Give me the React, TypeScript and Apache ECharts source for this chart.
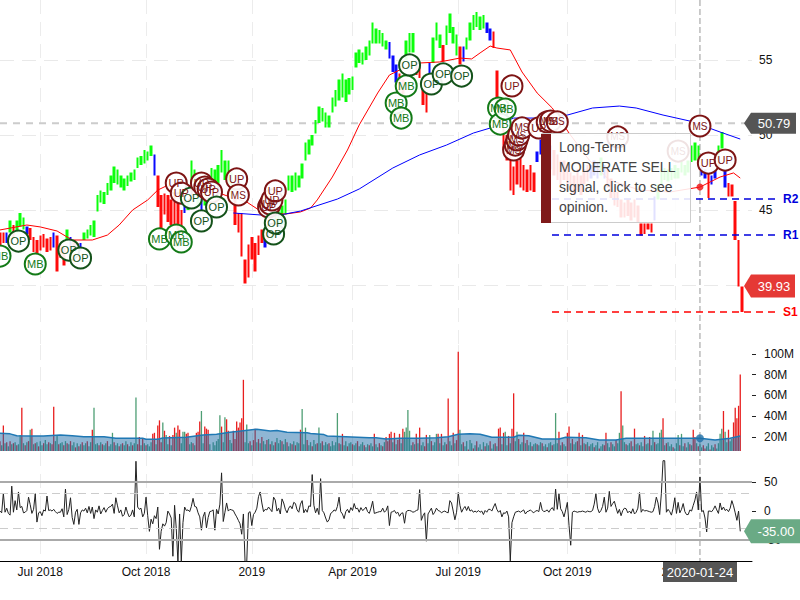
import React, { useEffect, useRef } from "react";
import * as echarts from "echarts";

const FONT = '"Liberation Sans", Arial, sans-serif';
const COUNT = 449;
const tickIndex = [24, 87, 150, 210, 273, 338, 402];
const tickText = ["Jul 2018", "Oct 2018", "2019", "Apr 2019", "Jul 2019", "Oct 2019", "2020"];

// One price bar for every second trading day.
const highs = [
43.5,43.5,43.5,44.3,44,44.3,44.8,44.5,43.9,43.8,
43.2,43,43.3,43.4,43.1,43.2,43.5,43.3,42.7,42.5,
43.7,43.2,43,42.8,42.8,43.5,43.7,44,44.3,46,
46.3,46.2,46.8,47.3,47.9,47.7,47.3,47.1,47.3,47.5,
47.7,48.5,48.6,49,48.9,49.3,48.7,47.3,46,46.1,
46,45.7,46.3,45.5,45,45.3,45.7,48.3,47.7,46.3,
46,46.3,47,47.8,47.7,48,49,48.3,48.3,47.5,
45.8,44.8,44.8,41.7,42.7,43.2,42.8,43.3,43.7,43.1,
44,44,44.7,45,45.3,45.7,47.3,47.3,47.5,47.3,
48.1,49.5,49.7,50,51,51.9,51.8,51.5,51.3,52.5,
53,53.7,54.1,53.7,53.8,53.9,55.5,55.7,55.5,55.9,
56.3,57.5,57.1,57,56.8,56.3,56.2,55.3,54.7,54.1,
53.7,56.3,56.8,56.8,55,54.8,53.1,52.8,54.8,56.5,
57.5,56.7,56,57.3,58.1,57.2,56.7,55.9,55.9,56.5,
57.5,58,58.2,57.9,58,57.5,57.1,56.9,54.3,52.3,
50.7,50,48.7,47.9,48.3,48.5,48,47.7,48,47.5,
48.9,49.7,49.7,49.7,49.3,49,48.7,48.3,48.3,48,
47.5,47.3,47.7,47.3,47.7,48,48,48.3,48.2,48.5,
48,47.7,47.1,46.3,46.2,45.7,45.5,45.7,45.5,45.7,
45.3,44.1,44.1,44.1,44.1,45.9,46.7,47.7,47.8,47.7,
47.8,48,47.8,48.3,48,48.3,49.3,49.5,49.3,48,
47.7,47.5,47.3,47.7,49.3,50.2,47.7,46.8,46.7,45.6,
43,39.9,
];
const lows = [
42.6,42.8,42.8,43.5,43.1,43.5,43.9,43.7,43.4,43,
42.2,42.1,42.3,42.5,42.2,42.3,42.5,40.9,41.8,41.3,
43,42.5,42.3,42.1,42.3,43,43.1,43.3,43.2,44.9,
45.5,45.4,46,46.3,46.8,46.7,46.5,46.3,46.6,46.9,
47,47.8,48,48.1,48.3,48.6,47.3,45.2,43.8,44.7,
44.2,44,44,43.5,43.5,44.8,45,46.8,46.3,45.3,
44.9,45.3,46,46.3,46.3,46.8,47.5,47,46.7,45.9,
44,43.5,41.9,40.1,40.5,41.7,40.9,42,42.8,42.5,
43.1,43,43.3,43.7,44,44.7,46.3,46.2,46.3,46.5,
47.1,48.3,48.7,49.3,50.1,50.8,50.9,50.5,50.5,51.5,
51.9,52.3,52.5,52.2,52.7,53,54.5,54.8,54.7,55,
55.3,56.1,56.1,56.1,55.9,55.7,55.1,54.2,53.5,52.9,
52.7,55,55.5,55.5,54,53.8,52,51.5,54.1,54.8,
56.3,55.8,54.9,56,56.8,56.1,55.3,54.7,54.9,55.7,
56.3,57,57.2,57,57.1,56.8,56.3,55.8,52.3,50.7,
49,48.3,46.3,46,46.7,46.5,46.3,46.2,46.3,46.2,
48.2,48.7,48.9,48.5,47.7,47.3,47,46.7,47,46.3,
46.3,46,46.3,46,46.7,46.9,47.1,47.3,47.1,47.3,
47.1,46.5,45.8,45.3,45.2,44.5,44.5,44.6,44.3,44.5,
44.2,43.3,43.4,43.7,43.5,44.3,45.7,46.7,47,46.9,
47,47.1,47.1,47.5,47.3,47.5,48.2,48.3,48.1,47.3,
47.1,45.8,46.7,47.1,48,49.1,46.5,45.9,45.9,43,
39.9,38.2,
];
const trend =
  "rrbgrgggbr" + "rrrrrrbrrr" + "gbrrbggggg" + "gggggggggg" + "ggggggbrrr" +
  "rrrrrbgggg" + "bggggggggg" + "rrrrrrrrrb" + "rggggggggg" + "gggggggggg" +
  "gggggggggg" + "ggggggbbbr" + "rgggrrrrbg" + "ggrggggrbg" + "gggggbbrrr" +
  "rrrrrrrrrr" + "bbbbbrrrrr" + "rrrrrrbbbg" + "brrrrrrrrr" + "rrrrrbgggg" +
  "gggggggggb" + "brbbggbrrr" + "rr";

const redAverage = [
[0,43.67],[16,44],[24,43.87],[34,43.6],[43,43],[55,43],[64,43.33],[71,44],[79,45],[88,45.67],
[94,46.33],[99,46.6],[119,46.6],[137,45.87],[147,45.53],[157,44.8],[170,44.73],[179,44.87],[185,45.13],[189,45.67],
[198,47.2],[207,49],[214,50.67],[225,52.8],[232,54],[238,54.33],[250,54.8],[262,54.87],[274,55.13],[281,55.07],
[286,55.47],[292,55.93],[296,55.8],[304,55.67],[311,54.2],[320,52.8],[329,51.8],[339,50.13],[351,48.33],[363,47],
[381,46.33],[399,46.2],[417,46.53],[429,47.2],[437,47.47],[441,47.13],
];
const blueAverage = [
[139,44.8],[155,44.67],[167,44.67],[179,44.93],[201,45.73],[214,46.4],[234,47.8],[250,48.67],[266,49.33],[282,50.13],
[294,50.53],[306,51.13],[322,51.13],[338,51.33],[353,51.8],[369,51.93],[379,51.8],[395,51.33],[411,50.93],[429,50.2],[441,49.73],
];

const signalType = ["MB","OP","MB","OP","OP","MB","MB","UP","MB","UP","OP","OP","UP","UP","UP","UP","OP","UP","MS","UP","UP","UP","OP","UP","OP","MB","MB","MB","OP","OP","OP","OP","MB","MB","MB","UP","MS","MS","MS","MS","MS","UP","MS","MS","MS","MS","MS","MS","UP","UP"];
const signalIndex = [0,11,21,41,48,95,105,105,108,108,114,120,120,122,124,126,129,141,142,160,161,162,163,164,164,236,239,242,244,257,264,275,297,298,301,305,306,307,308,309,311,321,326,328,332,368,404,417,422,432];
const signalPrice = [41.93,42.93,41.4,42.33,41.8,43.07,43.33,46.8,42.87,46.13,45.8,44.27,46.8,46.53,46.4,46.2,45.2,47.07,46,45.2,45.4,45.67,43.4,46.27,44.13,52.13,51.13,53.27,54.67,53.4,54.07,53.93,51.8,50.73,51.73,53.27,49,49.33,49.67,50,50.47,50.47,50.87,50.93,50.87,49.87,48.93,50.6,48.13,48.33];

// Volume in millions: negative means a down day (red bar).
const volumes = [
-16,12,-31,14,-15,11,-16,13,-14,15,-12,13,22,-48,14,-12,15,-16,27,-28,
13,-14,15,-11,16,12,-14,17,13,-15,14,-13,-49,16,22,-13,14,15,-12,16,
-14,13,-16,12,15,-10,14,-11,13,-15,12,14,-16,11,15,-27,48,13,14,-12,
15,-13,12,14,-16,11,13,24,-15,12,14,-11,13,-14,12,16,-13,11,15,-12,
14,58,-13,-20,12,-19,14,-12,13,11,15,-23,-24,13,-31,-36,-15,34,-26,22,
13,-21,12,-22,-29,24,-31,-27,14,25,25,-23,-24,13,15,-14,12,-24,-25,-35,
45,14,-30,-28,-27,13,-7,15,12,16,18,41,-30,15,39,-37,-26,17,14,-26,
-18,-35,-29,-34,-38,-75,15,32,14,-16,12,-17,-28,15,-18,14,-20,16,13,-17,
18,-13,16,12,-15,19,14,17,-16,13,18,-15,11,14,-13,16,-12,15,14,-27,
47,13,29,-17,12,15,-11,17,13,-14,29,14,-16,12,15,13,-14,11,16,12,
15,43,-14,13,-23,12,16,-11,14,15,-13,12,14,-16,11,13,15,-12,10,13,
-12,14,11,-23,13,10,-14,12,-11,15,-20,-16,-23,-25,15,-24,13,-17,-23,14,
-28,25,29,46,26,12,-15,13,-23,14,-29,12,15,-11,-22,14,22,-16,12,15,
23,-23,14,-23,12,15,-13,-57,16,12,-24,14,-17,-102,27,13,-15,11,16,-8,
17,14,-9,12,-16,10,13,-8,15,-11,14,12,-16,9,13,-14,11,-28,-29,13,
-24,25,12,-21,14,-28,-62,16,25,-18,13,15,-24,14,-17,12,15,-11,13,14,
-13,12,15,-14,11,13,-10,14,15,-12,13,43,14,-25,12,-15,13,11,-24,-30,
14,-18,13,15,-16,-24,12,-22,14,-13,15,-11,13,14,-10,12,15,-9,11,13,
-12,-24,14,10,-15,13,11,-17,14,24,-64,31,15,-13,12,14,-16,11,-28,13,
14,-12,15,11,-21,13,14,-20,12,26,-15,13,14,24,27,-38,12,-14,15,11,
13,-10,9,14,22,-12,23,11,-14,10,15,-13,12,-27,-20,14,-11,13,10,-12,
-9,11,14,-8,12,10,-13,9,14,23,28,-45,25,15,-27,16,18,-34,-48,-38,-50,-80,
];
const averageVolume = [
[0,23.5],[6,23],[10,21.2],[18,21],[26,21],[36,22],[43,21.2],[50,20.3],[62,20.3],[69,18.7],[85,18.7],[87,17.8],[94,17.8],[97,19],
[111,19.7],[121,22],[129,22.6],[137,24.5],[145,26],[153,27.4],[161,25.7],[165,26.3],[171,24.5],[183,24],[185,23.3],[193,22.3],[195,21],
[206,20.3],[220,19.3],[224,19.3],[230,18],[238,18.7],[250,18.7],[260,19.3],[267,20.3],[273,22.6],[280,23.2],[286,22.6],[293,19.7],[306,19.7],
[309,21.6],[315,21.2],[323,18],[333,18],[337,19.7],[349,19.3],[357,17.1],[367,17.1],[373,18.7],[417,18.7],[426,17.1],[435,18.7],[441,21],
];

const oscillator = [
0,-3,31,-2,5,-4,-7,43,-2,18,2,33,6,8,-3,-2,1,24,11,-4,
3,30,-19,-3,-1,-8,2,0,26,1,2,0,3,-1,-4,-2,-2,4,-10,38,
-6,3,23,-11,-23,-2,3,-23,-3,2,0,5,-3,8,-4,7,-13,2,-2,9,
-5,1,6,-2,4,7,8,12,-4,23,9,-3,2,-9,-6,7,-3,-10,-7,2,
-10,86,7,3,5,-10,-4,24,-8,-35,-14,-22,-8,-13,7,-66,-35,-22,-26,-20,
0,-5,-12,-78,10,-30,-88,-5,-88,-20,7,1,2,-1,8,22,8,7,-3,-10,
-33,-10,-2,-29,-11,-1,0,2,-33,3,-5,12,66,-18,-2,14,0,3,2,1,
-5,-10,-16,-22,-40,-5,-88,-88,-3,-1,-25,-6,-2,5,25,33,14,-1,3,2,
7,3,-1,24,19,0,5,-5,21,14,3,-3,5,9,4,15,13,2,-2,12,
18,-3,3,-2,9,8,63,10,-3,5,-6,56,1,-3,-12,-19,-15,-4,-2,2,
0,8,24,-1,-5,-13,-1,3,-3,6,1,13,4,5,-2,6,1,3,7,-1,
-4,5,17,-4,-3,-2,-1,-1,5,-2,1,9,-25,-2,-1,1,-4,-2,-9,-4,
-3,-21,-1,1,1,0,-2,-1,1,2,37,-16,-8,-3,-52,-5,0,5,-6,-2,
5,1,0,-3,-1,0,-2,-3,18,14,0,-15,-2,32,10,-2,4,8,1,8,
0,2,-2,0,-2,1,-2,0,-6,1,-2,3,3,0,7,13,3,-2,1,-10,
-3,-4,0,-10,-86,-20,-10,-2,-1,0,-2,0,2,-5,-1,0,2,-1,-3,0,
1,-1,15,2,-1,0,2,-2,3,6,1,38,3,30,4,-1,-10,2,15,-25,
-59,-2,0,-1,-2,-1,-1,0,-1,-2,0,-1,-1,1,12,30,5,-3,1,8,
24,-2,5,34,8,13,17,6,-4,3,-8,1,5,4,-3,0,-4,4,-5,-2,
5,32,-2,3,0,1,0,-1,-2,-1,8,24,14,-6,30,87,87,-2,3,-1,
-7,5,23,-4,15,-3,3,13,-1,-6,-6,2,0,10,19,33,2,59,-1,1,
-12,-36,0,0,-1,3,9,2,-4,14,2,7,1,3,-1,5,18,9,-3,-16,0,-35,
];

const levelNames = ["R2", "R1", "S1"];
const levelValues = [45.73, 43.33, 38.2];
const levelColors = ["#0000dd", "#0000dd", "#ff0000"];
const currentPrice = 50.79;
const lastPrice = 39.93;
const lastOscillator = -35;
const crosshairIndex = 417;
const crosshairDate = "2020-01-24";
const crosshairAverage = 46.53;
const crosshairVolume = 18.7;
const tooltipLines = ["Long-Term", "MODERATE SELL", "signal, click to see", "opinion."];

const TREND_COLOR: Record<string, string> = { r: "#ff0a0a", g: "#0cff0c", b: "#0a0aff" };
const SIGNAL_COLOR: Record<string, string> = { OP: "#14521a", MB: "#137a17", UP: "#7d1414", MS: "#7d1414" };

const categories = Array.from({ length: COUNT }, (_, i) => {
  const t = tickIndex.indexOf(i);
  return t >= 0 ? tickText[t] : "";
});
const isTick = (_: number, v: string) => v !== "";

function candles() {
  return categories.map((_, i) => {
    const k = i / 2;
    if (i % 2 !== 0 || k >= highs.length) return ["-", "-", "-", "-"];
    const c = TREND_COLOR[trend[k]];
    const up = trend[k] !== "r";
    return {
      value: up ? [lows[k], highs[k], lows[k], highs[k]] : [highs[k], lows[k], lows[k], highs[k]],
      itemStyle: { color: c, color0: c, borderColor: c, borderColor0: c, borderWidth: 0 },
    };
  });
}

function xAxis(gridIndex: number, bottom: boolean) {
  return {
    type: "category",
    gridIndex,
    data: categories,
    boundaryGap: false,
    axisTick: { show: false },
    axisLine: { show: bottom, onZero: false, lineStyle: { color: "#000", width: 1 } },
    axisLabel: {
      show: bottom,
      interval: isTick,
      margin: 5,
      color: "#111",
      fontSize: 12,
      fontFamily: FONT,
    },
    splitLine: {
      show: true,
      interval: isTick,
      lineStyle: { color: "#ececec", type: [14, 8], width: 1 },
    },
  };
}

export default function App() {
  const ref = useRef<HTMLDivElement>(null);
  useEffect(() => {
    if (!ref.current) return;
    document.body.style.margin = "0";
    const chart = echarts.init(ref.current, undefined, { renderer: "svg" });
    const labelStyle = { color: "#111", fontSize: 12, fontFamily: FONT };
    chart.setOption({
      animation: false,
      grid: [
        { left: 0, top: 0, width: 752, height: 360 },
        { left: 0, top: 345, width: 752, height: 106 },
        { left: 0, top: 452, width: 752, height: 109 },
      ],
      xAxis: [xAxis(0, false), xAxis(1, false), xAxis(2, true)],
      yAxis: [
        {
          type: "value",
          gridIndex: 0,
          position: "right",
          min: 35,
          max: 59,
          interval: 5,
          axisLine: { show: false },
          axisTick: { show: false },
          axisLabel: { ...labelStyle, margin: 7, showMinLabel: false, showMaxLabel: false, formatter: (v: number) => (v >= 40 && v <= 55 ? String(v) : "") },
          splitLine: { show: true, showMinLine: false, showMaxLine: false, lineStyle: { color: "#e9e9e9", type: [14, 8], width: 1 } },
        },
        {
          type: "value",
          gridIndex: 1,
          position: "right",
          min: 6.5,
          max: 108.5,
          axisLine: { show: false },
          axisTick: { show: true, length: 4, lineStyle: { color: "#222" }, customValues: [20, 40, 60, 80, 100] },
          axisLabel: { ...labelStyle, margin: 12, formatter: (v: number) => v + "M", customValues: [20, 40, 60, 80, 100] },
          splitLine: { show: false },
        },
        {
          type: "value",
          gridIndex: 2,
          position: "right",
          min: -86.2,
          max: 102,
          axisLine: { show: false },
          axisTick: { show: true, length: 4, lineStyle: { color: "#222" }, customValues: [-50, 0, 50] },
          axisLabel: { ...labelStyle, margin: 12, customValues: [-50, 0, 50] },
          splitLine: { show: false },
        },
      ],
      series: [
        { type: "candlestick", xAxisIndex: 0, yAxisIndex: 0, barWidth: 3, data: candles(), z: 3 },
        { type: "line", xAxisIndex: 0, yAxisIndex: 0, data: redAverage, showSymbol: false, lineStyle: { color: "#ff0000", width: 1 }, z: 4 },
        { type: "line", xAxisIndex: 0, yAxisIndex: 0, data: blueAverage, showSymbol: false, lineStyle: { color: "#0000ff", width: 1 }, z: 4 },
        {
          type: "scatter",
          xAxisIndex: 0,
          yAxisIndex: 0,
          data: [[crosshairIndex, crosshairAverage]],
          symbolSize: 7,
          itemStyle: { color: "#ee1111" },
          z: 5,
        },
        {
          type: "scatter",
          xAxisIndex: 0,
          yAxisIndex: 0,
          z: 10,
          symbol: "circle",
          symbolSize: 21,
          clip: false,
          data: signalType.map((t, i) => ({
            value: [signalIndex[i], signalPrice[i]],
            name: t,
            itemStyle: { color: "rgba(255,255,255,0.92)", borderColor: SIGNAL_COLOR[t], borderWidth: 2, opacity: 1 },
            label: { show: true, position: "inside", formatter: t, color: SIGNAL_COLOR[t], fontSize: t === "MS" ? 10 : 11, fontFamily: FONT },
          })),
        },
        {
          type: "bar",
          xAxisIndex: 1,
          yAxisIndex: 1,
          barWidth: 1.3,
          z: 2,
          data: volumes.map((v) => ({ value: Math.abs(v), itemStyle: { color: v < 0 ? "#e81e1e" : "#4e9e74" } })),
        },
        {
          type: "line",
          xAxisIndex: 1,
          yAxisIndex: 1,
          data: averageVolume,
          showSymbol: false,
          lineStyle: { color: "#1f78b4", width: 1.5 },
          areaStyle: { color: "rgba(31,110,170,0.5)", opacity: 1 },
          z: 3,
        },
        {
          type: "scatter",
          xAxisIndex: 1,
          yAxisIndex: 1,
          data: [[crosshairIndex, crosshairVolume]],
          symbolSize: 8,
          itemStyle: { color: "#1f6fa8" },
          z: 5,
        },
        {
          type: "line",
          xAxisIndex: 2,
          yAxisIndex: 2,
          data: oscillator,
          showSymbol: false,
          lineStyle: { color: "#222", width: 1 },
          z: 4,
          markLine: {
            silent: true,
            symbol: "none",
            label: { show: false },
            data: [
              { yAxis: 50, lineStyle: { color: "#aaa", width: 2, type: "solid" } },
              { yAxis: -50, lineStyle: { color: "#aaa", width: 2, type: "solid" } },
              { yAxis: 30, lineStyle: { color: "#ccc", width: 1, type: [8, 5] } },
              { yAxis: -30, lineStyle: { color: "#ccc", width: 1, type: [8, 5] } },
            ],
          },
        },
      ],
    });

    const py = (v: number) => chart.convertToPixel({ yAxisIndex: 0 }, v) as number;
    const oy = (v: number) => chart.convertToPixel({ yAxisIndex: 2 }, v) as number;
    const cx = chart.convertToPixel({ xAxisIndex: 0 }, crosshairIndex) as number;
    const txt = (text: string, x: number, y: number, font: string, fill: string, align = "center") => ({
      type: "text",
      z: 101,
      silent: true,
      style: { text, x, y, font, fill, textAlign: align, textVerticalAlign: "middle" },
    });
    const tag = (yc: number, h: number, right: number, fill: string) => ({
      type: "polygon",
      z: 100,
      silent: true,
      shape: { points: [[744, yc], [751, yc - h / 2], [right, yc - h / 2], [right, yc + h / 2], [751, yc + h / 2]] },
      style: { fill },
    });
    const tagFont = `13px ${FONT}`;
    const graphic: any[] = [
      {
        type: "line",
        z: 1,
        silent: true,
        shape: { x1: 0, y1: py(currentPrice), x2: 745, y2: py(currentPrice) },
        style: { stroke: "#cccccc", lineWidth: 2, lineDash: [7, 6] },
      },
      {
        type: "line",
        z: 1,
        silent: true,
        shape: { x1: cx, y1: 0, x2: cx, y2: 561 },
        style: { stroke: "#999999", lineWidth: 1, lineDash: [6, 3] },
      },
    ];
    levelNames.forEach((name, i) => {
      const y = py(levelValues[i]);
      graphic.push({
        type: "line",
        z: 6,
        silent: true,
        shape: { x1: 552, y1: y, x2: 775, y2: y },
        style: { stroke: levelColors[i], lineWidth: 1.5, lineDash: [7, 5] },
      });
      graphic.push(txt(name, 783, y, `bold 12px ${FONT}`, levelColors[i], "left"));
    });
    graphic.push(tag(py(currentPrice), 21, 796, "#555555"), txt(currentPrice.toFixed(2), 774, py(currentPrice), tagFont, "#fff"));
    graphic.push(tag(py(lastPrice), 23, 795, "#e53935"), txt(lastPrice.toFixed(2), 774, py(lastPrice), tagFont, "#fff"));
    graphic.push(tag(oy(lastOscillator), 24, 800, "#6aaa85"), txt(lastOscillator.toFixed(2), 776, oy(lastOscillator), tagFont, "#fff"));
    graphic.push({
      type: "rect",
      z: 100,
      silent: true,
      shape: { x: 663, y: 562, width: 74, height: 20 },
      style: { fill: "#555555" },
    });
    graphic.push(txt(crosshairDate, 700, 572, tagFont, "#fff"));
    graphic.push({
      type: "rect",
      z: 100,
      silent: true,
      shape: { x: 541.5, y: 133.5, width: 149, height: 89 },
      style: { fill: "rgba(255,255,255,0.88)", stroke: "#cccccc", lineWidth: 1 },
    });
    graphic.push({
      type: "rect",
      z: 101,
      silent: true,
      shape: { x: 541, y: 134, width: 10, height: 89 },
      style: { fill: "#7f1a1a" },
    });
    tooltipLines.forEach((line, i) => {
      graphic.push(txt(line, 559, 147 + i * 20, `14px ${FONT}`, "#444444", "left"));
    });
    chart.setOption({ graphic });
    return () => chart.dispose();
  }, []);
  return <div ref={ref} style={{ position: "absolute", left: 0, top: 0, width: 800, height: 600, background: "#fff" }} />;
}
